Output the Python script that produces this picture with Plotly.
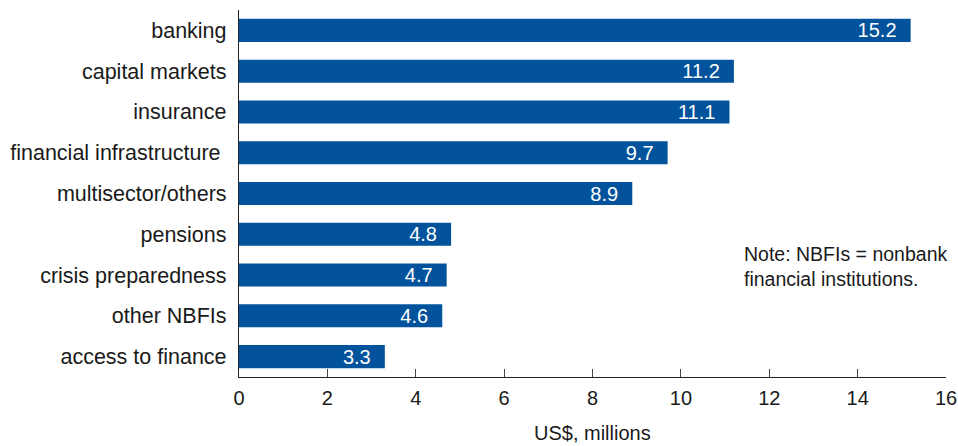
import plotly.graph_objects as go

categories = ["banking", "capital markets", "insurance", "financial infrastructure\u00a0",
              "multisector/others", "pensions", "crisis preparedness", "other NBFIs",
              "access to finance"]
values = [15.2, 11.2, 11.1, 9.7, 8.9, 4.8, 4.7, 4.6, 3.3]
x_ticks = [0, 2, 4, 6, 8, 10, 12, 14, 16]

BAR = "#02539B"
TXT = "#1a1a1a"
FONT = "Liberation Sans, Arial, Helvetica, sans-serif"

fig = go.Figure(go.Bar(
    x=values, y=categories, orientation="h",
    marker=dict(color=BAR, line=dict(width=0)),
    width=0.565,
    text=[f"{v:.1f}\u00a0\u00a0" for v in values],
    textposition="inside", insidetextanchor="end",
    textangle=0, constraintext="none",
    textfont=dict(color="white", size=20, family=FONT),
    hoverinfo="skip",
))

fig.update_layout(
    width=958, height=446,
    margin=dict(l=239, r=12, t=10, b=69, autoexpand=False),
    paper_bgcolor="white", plot_bgcolor="white",
    font=dict(family=FONT, size=20, color=TXT),
    showlegend=False,
)

fig.update_xaxes(
    range=[0, 16], tickvals=x_ticks, ticktext=[str(t) for t in x_ticks],
    showgrid=False, zeroline=False, automargin=False,
    showline=True, linecolor="#222", linewidth=1.3,
    ticks="inside", ticklen=8, tickwidth=1.2, tickcolor="#444",
    tickfont=dict(size=20, color=TXT), ticklabelstandoff=3,
)
fig.update_yaxes(
    categoryorder="array", categoryarray=categories,
    autorange=False, range=[8.5, -0.5],
    showgrid=False, zeroline=False, automargin=False,
    showline=True, linecolor="#222", linewidth=1.3,
    ticks="", tickfont=dict(size=21.5, color=TXT), ticklabelstandoff=7,
)

fig.add_annotation(
    text="US$, millions", xref="paper", yref="paper", x=0.5, y=0,
    yshift=-56, xanchor="center", yanchor="middle", showarrow=False,
    font=dict(size=20, color=TXT),
)
fig.add_annotation(
    text="Note: NBFIs = nonbank<br>financial institutions.",
    xref="paper", yref="paper", x=0.711, y=0.30,
    xanchor="left", yanchor="middle", align="left", showarrow=False,
    font=dict(size=19.5, color=TXT),
)

# remove the default page margin so the 958x446 figure fills the window exactly
fig.write_html(
    "out.html",
    config={"displayModeBar": False, "responsive": False},
    post_script="document.body.style.margin='0';document.body.style.overflow='hidden';",
)
